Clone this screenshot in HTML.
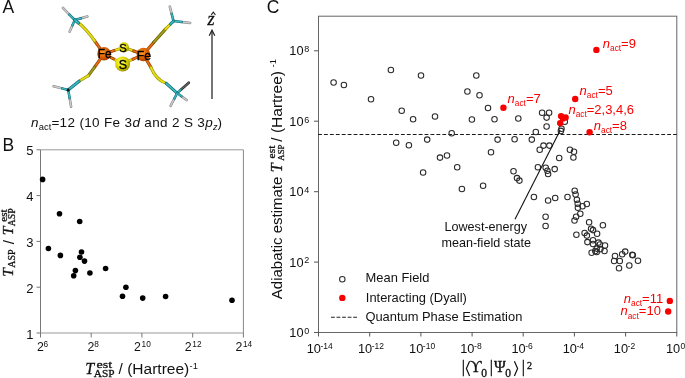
<!DOCTYPE html><html><head><meta charset="utf-8"><style>html,body{margin:0;padding:0;background:#fff;width:685px;height:378px;overflow:hidden}svg{display:block;will-change:transform}</style></head><body>
<svg width="685" height="378" viewBox="0 0 685 378">
<defs>
<radialGradient id="gFe" cx="0.4" cy="0.38" r="0.68"><stop offset="0" stop-color="#ff9a30"/><stop offset="0.5" stop-color="#e06400"/><stop offset="0.85" stop-color="#b04800"/><stop offset="1" stop-color="#7a3000"/></radialGradient>
<radialGradient id="gS" cx="0.4" cy="0.38" r="0.68"><stop offset="0" stop-color="#ffff80"/><stop offset="0.5" stop-color="#e4dc00"/><stop offset="0.85" stop-color="#b0a800"/><stop offset="1" stop-color="#7a7400"/></radialGradient>
</defs>
<text id="m_A" x="2.50" y="12.70" font-size="17.5" font-family='"Liberation Sans", sans-serif' fill="#111">A</text>
<text id="m_B" x="2.50" y="150.80" font-size="17.5" font-family='"Liberation Sans", sans-serif' fill="#111">B</text>
<text id="m_C" x="266.80" y="13.20" font-size="17.5" font-family='"Liberation Sans", sans-serif' fill="#111">C</text>
<g fill="none" stroke-width="1">
<line x1="40.5" y1="149.8" x2="243.4" y2="149.8" stroke="#999"/>
<line x1="243.4" y1="149.8" x2="243.4" y2="333.0" stroke="#888"/>
<line x1="40.5" y1="333.0" x2="243.4" y2="333.0" stroke="#999"/>
<line x1="40.5" y1="149.8" x2="40.5" y2="333.0" stroke="#777"/>
<line x1="36.5" y1="333.0" x2="40.5" y2="333.0" stroke="#777"/>
<line x1="36.5" y1="287.2" x2="40.5" y2="287.2" stroke="#777"/>
<line x1="36.5" y1="241.4" x2="40.5" y2="241.4" stroke="#777"/>
<line x1="36.5" y1="195.6" x2="40.5" y2="195.6" stroke="#777"/>
<line x1="36.5" y1="149.8" x2="40.5" y2="149.8" stroke="#777"/>
<line x1="40.5" y1="333.0" x2="40.5" y2="337.5" stroke="#777"/>
<line x1="91.2" y1="333.0" x2="91.2" y2="337.5" stroke="#777"/>
<line x1="141.9" y1="333.0" x2="141.9" y2="337.5" stroke="#777"/>
<line x1="192.7" y1="333.0" x2="192.7" y2="337.5" stroke="#777"/>
<line x1="243.4" y1="333.0" x2="243.4" y2="337.5" stroke="#777"/>
</g>
<text id="m_by1" x="33.40" y="338.50" font-size="13" font-family='"Liberation Sans", sans-serif' fill="#111" text-anchor="end">1</text>
<text id="m_by2" x="33.40" y="292.70" font-size="13" font-family='"Liberation Sans", sans-serif' fill="#111" text-anchor="end">2</text>
<text id="m_by3" x="33.40" y="246.90" font-size="13" font-family='"Liberation Sans", sans-serif' fill="#111" text-anchor="end">3</text>
<text id="m_by4" x="33.40" y="201.10" font-size="13" font-family='"Liberation Sans", sans-serif' fill="#111" text-anchor="end">4</text>
<text id="m_by5" x="33.40" y="155.30" font-size="13" font-family='"Liberation Sans", sans-serif' fill="#111" text-anchor="end">5</text>
<text id="m_bx6" x="36.90" y="351.20" font-size="12.3" font-family='"Liberation Sans", sans-serif' fill="#111">2</text>
<text id="m_bxs6" x="43.60" y="347.00" font-size="8.3" font-family='"Liberation Sans", sans-serif' fill="#111">6</text>
<text id="m_bx8" x="87.62" y="351.20" font-size="12.3" font-family='"Liberation Sans", sans-serif' fill="#111">2</text>
<text id="m_bxs8" x="94.32" y="347.00" font-size="8.3" font-family='"Liberation Sans", sans-serif' fill="#111">8</text>
<text id="m_bx10" x="133.95" y="351.20" font-size="12.3" font-family='"Liberation Sans", sans-serif' fill="#111">2</text>
<text id="m_bxs10" x="141.55" y="347.00" font-size="8.3" font-family='"Liberation Sans", sans-serif' fill="#111">10</text>
<text id="m_bx12" x="184.68" y="351.20" font-size="12.3" font-family='"Liberation Sans", sans-serif' fill="#111">2</text>
<text id="m_bxs12" x="192.28" y="347.00" font-size="8.3" font-family='"Liberation Sans", sans-serif' fill="#111">12</text>
<text id="m_bx14" x="235.40" y="351.20" font-size="12.3" font-family='"Liberation Sans", sans-serif' fill="#111">2</text>
<text id="m_bxs14" x="243.00" y="347.00" font-size="8.3" font-family='"Liberation Sans", sans-serif' fill="#111">14</text>
<circle cx="42.6" cy="179.4" r="2.8" fill="#000"/>
<circle cx="59.5" cy="213.7" r="2.8" fill="#000"/>
<circle cx="79.7" cy="221.5" r="2.8" fill="#000"/>
<circle cx="48.4" cy="248.5" r="2.8" fill="#000"/>
<circle cx="60.4" cy="255.4" r="2.8" fill="#000"/>
<circle cx="81.5" cy="252.0" r="2.8" fill="#000"/>
<circle cx="79.9" cy="257.2" r="2.8" fill="#000"/>
<circle cx="84.5" cy="261.1" r="2.8" fill="#000"/>
<circle cx="75.4" cy="270.6" r="2.8" fill="#000"/>
<circle cx="73.7" cy="275.7" r="2.8" fill="#000"/>
<circle cx="89.9" cy="273.0" r="2.8" fill="#000"/>
<circle cx="105.6" cy="268.5" r="2.8" fill="#000"/>
<circle cx="125.9" cy="287.3" r="2.8" fill="#000"/>
<circle cx="122.5" cy="296.3" r="2.8" fill="#000"/>
<circle cx="142.7" cy="298.1" r="2.8" fill="#000"/>
<circle cx="165.6" cy="296.5" r="2.8" fill="#000"/>
<circle cx="232.0" cy="300.2" r="2.8" fill="#000"/>
<text id="m_bT" x="85.20" y="373.70" font-size="16" font-family='"Liberation Serif", serif' fill="#111" font-style="italic" stroke="#111" stroke-width="0.3">T</text>
<text id="m_best" transform="translate(96.60,367.70) scale(1.28,1)" font-size="11" font-family='"Liberation Serif", serif' fill="#111" stroke="#111" stroke-width="0.3">est</text>
<text id="m_bASP" x="93.80" y="377.40" font-size="11.3" font-family='"Liberation Serif", serif' fill="#111" stroke="#111" stroke-width="0.3">ASP</text>
<text id="m_bH" x="118.60" y="373.70" font-size="15.5" font-family='"Liberation Sans", sans-serif' fill="#111">/ (Hartree)</text>
<text id="m_bm1" x="189.60" y="369.20" font-size="9.4" font-family='"Liberation Sans", sans-serif' fill="#111">-1</text>
<g transform="translate(12.5,276.7) rotate(-90)">
<text id="m_byT1" x="0.00" y="0.00" font-size="15.5" font-family='"Liberation Serif", serif' fill="#111" font-style="italic" stroke="#111" stroke-width="0.3">T</text>
<text id="m_byA1" x="8.90" y="2.40" font-size="10" font-family='"Liberation Serif", serif' fill="#111" stroke="#111" stroke-width="0.3">ASP</text>
<text id="m_bys" x="32.50" y="1.80" font-size="15" font-family='"Liberation Sans", sans-serif' fill="#111">/</text>
<text id="m_byT2" x="41.50" y="0.00" font-size="15.5" font-family='"Liberation Serif", serif' fill="#111" font-style="italic" stroke="#111" stroke-width="0.3">T</text>
<text id="m_bye2" transform="translate(55.00,-6.00) scale(1.12,1)" font-size="10" font-family='"Liberation Serif", serif' fill="#111" stroke="#111" stroke-width="0.3">est</text>
<text id="m_byA2" x="50.50" y="2.40" font-size="9.7" font-family='"Liberation Serif", serif' fill="#111" stroke="#111" stroke-width="0.3">ASP</text>
</g>
<g fill="none" stroke-width="1">
<rect x="318.5" y="16.2" width="358.3" height="316.3" stroke="#666"/>
<line x1="314.0" y1="332.5" x2="318.5" y2="332.5" stroke="#555"/>
<line x1="314.0" y1="262.1" x2="318.5" y2="262.1" stroke="#555"/>
<line x1="314.0" y1="191.7" x2="318.5" y2="191.7" stroke="#555"/>
<line x1="314.0" y1="121.2" x2="318.5" y2="121.2" stroke="#555"/>
<line x1="314.0" y1="50.8" x2="318.5" y2="50.8" stroke="#555"/>
<line x1="318.5" y1="332.5" x2="318.5" y2="336.5" stroke="#555"/>
<line x1="369.7" y1="332.5" x2="369.7" y2="336.5" stroke="#555"/>
<line x1="420.9" y1="332.5" x2="420.9" y2="336.5" stroke="#555"/>
<line x1="472.1" y1="332.5" x2="472.1" y2="336.5" stroke="#555"/>
<line x1="523.2" y1="332.5" x2="523.2" y2="336.5" stroke="#555"/>
<line x1="574.4" y1="332.5" x2="574.4" y2="336.5" stroke="#555"/>
<line x1="625.6" y1="332.5" x2="625.6" y2="336.5" stroke="#555"/>
<line x1="676.8" y1="332.5" x2="676.8" y2="336.5" stroke="#555"/>
</g>
<text id="m_cy0" x="303.50" y="337.00" font-size="12.8" font-family='"Liberation Sans", sans-serif' fill="#111" text-anchor="end">10</text>
<text id="m_cys0" x="304.30" y="333.80" font-size="9" font-family='"Liberation Sans", sans-serif' fill="#111">0</text>
<text id="m_cy2" x="303.50" y="266.58" font-size="12.8" font-family='"Liberation Sans", sans-serif' fill="#111" text-anchor="end">10</text>
<text id="m_cys2" x="304.30" y="263.38" font-size="9" font-family='"Liberation Sans", sans-serif' fill="#111">2</text>
<text id="m_cy4" x="303.50" y="196.16" font-size="12.8" font-family='"Liberation Sans", sans-serif' fill="#111" text-anchor="end">10</text>
<text id="m_cys4" x="304.30" y="192.96" font-size="9" font-family='"Liberation Sans", sans-serif' fill="#111">4</text>
<text id="m_cy6" x="303.50" y="125.74" font-size="12.8" font-family='"Liberation Sans", sans-serif' fill="#111" text-anchor="end">10</text>
<text id="m_cys6" x="304.30" y="122.54" font-size="9" font-family='"Liberation Sans", sans-serif' fill="#111">6</text>
<text id="m_cy8" x="303.50" y="55.32" font-size="12.8" font-family='"Liberation Sans", sans-serif' fill="#111" text-anchor="end">10</text>
<text id="m_cys8" x="304.30" y="52.12" font-size="9" font-family='"Liberation Sans", sans-serif' fill="#111">8</text>
<text id="m_cx-14" x="306.70" y="352.80" font-size="12.8" font-family='"Liberation Sans", sans-serif' fill="#111">10</text>
<text id="m_cxs-14" x="320.50" y="348.70" font-size="8.5" font-family='"Liberation Sans", sans-serif' fill="#111">-14</text>
<text id="m_cx-12" x="357.89" y="352.80" font-size="12.8" font-family='"Liberation Sans", sans-serif' fill="#111">10</text>
<text id="m_cxs-12" x="371.69" y="348.70" font-size="8.5" font-family='"Liberation Sans", sans-serif' fill="#111">-12</text>
<text id="m_cx-10" x="409.07" y="352.80" font-size="12.8" font-family='"Liberation Sans", sans-serif' fill="#111">10</text>
<text id="m_cxs-10" x="422.87" y="348.70" font-size="8.5" font-family='"Liberation Sans", sans-serif' fill="#111">-10</text>
<text id="m_cx-8" x="460.26" y="352.80" font-size="12.8" font-family='"Liberation Sans", sans-serif' fill="#111">10</text>
<text id="m_cxs-8" x="474.06" y="348.70" font-size="8.5" font-family='"Liberation Sans", sans-serif' fill="#111">-8</text>
<text id="m_cx-6" x="511.44" y="352.80" font-size="12.8" font-family='"Liberation Sans", sans-serif' fill="#111">10</text>
<text id="m_cxs-6" x="525.24" y="348.70" font-size="8.5" font-family='"Liberation Sans", sans-serif' fill="#111">-6</text>
<text id="m_cx-4" x="562.63" y="352.80" font-size="12.8" font-family='"Liberation Sans", sans-serif' fill="#111">10</text>
<text id="m_cxs-4" x="576.43" y="348.70" font-size="8.5" font-family='"Liberation Sans", sans-serif' fill="#111">-4</text>
<text id="m_cx-2" x="613.81" y="352.80" font-size="12.8" font-family='"Liberation Sans", sans-serif' fill="#111">10</text>
<text id="m_cxs-2" x="627.61" y="348.70" font-size="8.5" font-family='"Liberation Sans", sans-serif' fill="#111">-2</text>
<text id="m_cx0" x="665.90" y="352.80" font-size="12.8" font-family='"Liberation Sans", sans-serif' fill="#111">10</text>
<text id="m_cxs0" x="680.40" y="348.70" font-size="8.5" font-family='"Liberation Sans", sans-serif' fill="#111">0</text>
<line x1="318.1" y1="134.5" x2="676.8" y2="134.5" stroke="#1a1a1a" stroke-width="1.2" stroke-dasharray="3.8 2.117"/>
<g fill="none" stroke="#2a2a2a" stroke-width="1.05">
<circle cx="333.6" cy="82.4" r="2.75"/>
<circle cx="343.9" cy="85.0" r="2.75"/>
<circle cx="390.9" cy="70.0" r="2.75"/>
<circle cx="371.0" cy="99.2" r="2.75"/>
<circle cx="401.7" cy="110.8" r="2.75"/>
<circle cx="413.1" cy="119.2" r="2.75"/>
<circle cx="421.0" cy="75.4" r="2.75"/>
<circle cx="476.3" cy="75.4" r="2.75"/>
<circle cx="467.4" cy="91.5" r="2.75"/>
<circle cx="479.5" cy="95.3" r="2.75"/>
<circle cx="488.0" cy="108.0" r="2.75"/>
<circle cx="435.0" cy="116.5" r="2.75"/>
<circle cx="471.9" cy="119.5" r="2.75"/>
<circle cx="494.5" cy="119.3" r="2.75"/>
<circle cx="518.3" cy="118.5" r="2.75"/>
<circle cx="542.1" cy="112.8" r="2.75"/>
<circle cx="549.1" cy="112.8" r="2.75"/>
<circle cx="546.6" cy="117.6" r="2.75"/>
<circle cx="546.6" cy="126.4" r="2.75"/>
<circle cx="535.8" cy="132.0" r="2.75"/>
<circle cx="514.6" cy="139.2" r="2.75"/>
<circle cx="531.8" cy="139.6" r="2.75"/>
<circle cx="543.5" cy="145.6" r="2.75"/>
<circle cx="549.4" cy="145.6" r="2.75"/>
<circle cx="539.7" cy="149.8" r="2.75"/>
<circle cx="564.8" cy="121.8" r="2.75"/>
<circle cx="561.5" cy="128.8" r="2.75"/>
<circle cx="560.9" cy="130.9" r="2.75"/>
<circle cx="396.2" cy="142.8" r="2.75"/>
<circle cx="408.9" cy="145.2" r="2.75"/>
<circle cx="451.7" cy="133.3" r="2.75"/>
<circle cx="427.2" cy="139.6" r="2.75"/>
<circle cx="440.0" cy="157.6" r="2.75"/>
<circle cx="447.0" cy="155.4" r="2.75"/>
<circle cx="457.2" cy="167.2" r="2.75"/>
<circle cx="423.1" cy="172.4" r="2.75"/>
<circle cx="461.9" cy="188.9" r="2.75"/>
<circle cx="483.1" cy="185.7" r="2.75"/>
<circle cx="491.0" cy="152.2" r="2.75"/>
<circle cx="497.6" cy="139.6" r="2.75"/>
<circle cx="559.2" cy="157.9" r="2.75"/>
<circle cx="537.9" cy="167.3" r="2.75"/>
<circle cx="545.7" cy="167.8" r="2.75"/>
<circle cx="547.4" cy="170.8" r="2.75"/>
<circle cx="548.1" cy="174.0" r="2.75"/>
<circle cx="554.7" cy="169.1" r="2.75"/>
<circle cx="513.5" cy="171.3" r="2.75"/>
<circle cx="517.0" cy="178.1" r="2.75"/>
<circle cx="519.4" cy="180.6" r="2.75"/>
<circle cx="569.9" cy="149.8" r="2.75"/>
<circle cx="574.0" cy="151.8" r="2.75"/>
<circle cx="573.4" cy="157.4" r="2.75"/>
<circle cx="574.7" cy="190.8" r="2.75"/>
<circle cx="575.6" cy="194.5" r="2.75"/>
<circle cx="576.9" cy="199.8" r="2.75"/>
<circle cx="577.7" cy="203.8" r="2.75"/>
<circle cx="577.9" cy="207.8" r="2.75"/>
<circle cx="567.5" cy="196.9" r="2.75"/>
<circle cx="582.5" cy="206.2" r="2.75"/>
<circle cx="586.8" cy="204.0" r="2.75"/>
<circle cx="580.3" cy="213.8" r="2.75"/>
<circle cx="576.1" cy="216.7" r="2.75"/>
<circle cx="574.5" cy="220.4" r="2.75"/>
<circle cx="589.1" cy="222.2" r="2.75"/>
<circle cx="602.9" cy="225.3" r="2.75"/>
<circle cx="591.1" cy="228.7" r="2.75"/>
<circle cx="593.0" cy="230.1" r="2.75"/>
<circle cx="597.1" cy="233.8" r="2.75"/>
<circle cx="584.6" cy="232.9" r="2.75"/>
<circle cx="586.9" cy="235.6" r="2.75"/>
<circle cx="587.4" cy="242.1" r="2.75"/>
<circle cx="593.0" cy="240.3" r="2.75"/>
<circle cx="593.0" cy="244.0" r="2.75"/>
<circle cx="598.5" cy="242.6" r="2.75"/>
<circle cx="599.9" cy="244.4" r="2.75"/>
<circle cx="605.0" cy="245.4" r="2.75"/>
<circle cx="604.5" cy="250.9" r="2.75"/>
<circle cx="596.7" cy="248.6" r="2.75"/>
<circle cx="600.4" cy="249.1" r="2.75"/>
<circle cx="596.7" cy="251.9" r="2.75"/>
<circle cx="591.6" cy="252.8" r="2.75"/>
<circle cx="595.3" cy="250.9" r="2.75"/>
<circle cx="615.0" cy="255.9" r="2.75"/>
<circle cx="614.1" cy="261.0" r="2.75"/>
<circle cx="619.8" cy="261.0" r="2.75"/>
<circle cx="622.2" cy="254.3" r="2.75"/>
<circle cx="625.2" cy="251.6" r="2.75"/>
<circle cx="632.3" cy="254.8" r="2.75"/>
<circle cx="632.8" cy="255.3" r="2.75"/>
<circle cx="619.0" cy="268.3" r="2.75"/>
<circle cx="629.3" cy="265.4" r="2.75"/>
<circle cx="638.0" cy="260.7" r="2.75"/>
<circle cx="533.9" cy="197.0" r="2.75"/>
<circle cx="548.1" cy="200.4" r="2.75"/>
<circle cx="555.2" cy="198.0" r="2.75"/>
<circle cx="545.6" cy="216.7" r="2.75"/>
<circle cx="545.6" cy="225.9" r="2.75"/>
<circle cx="576.4" cy="234.8" r="2.75"/>
</g>
<line x1="560.2" y1="130.2" x2="515.0" y2="219.2" stroke="#111" stroke-width="1.1"/>
<text id="m_low1" x="485.80" y="231.40" font-size="12.6" font-family='"Liberation Sans", sans-serif' fill="#111" text-anchor="middle">Lowest-energy</text>
<text id="m_low2" x="486.20" y="246.90" font-size="12.6" font-family='"Liberation Sans", sans-serif' fill="#111" text-anchor="middle">mean-field state</text>
<g fill="#f80000">
<circle cx="596.4" cy="49.9" r="3.2"/>
<circle cx="575.2" cy="99.0" r="3.2"/>
<circle cx="503.4" cy="107.7" r="3.2"/>
<circle cx="561.1" cy="116.1" r="3.2"/>
<circle cx="565.6" cy="117.4" r="3.2"/>
<circle cx="563.0" cy="118.4" r="3.2"/>
<circle cx="560.2" cy="123.1" r="3.2"/>
<circle cx="589.6" cy="132.2" r="3.2"/>
<circle cx="669.8" cy="300.9" r="3.2"/>
<circle cx="668.2" cy="311.5" r="3.2"/>
</g>
<text id="m_n9" x="602.8" y="47.9" font-family='"Liberation Sans", sans-serif' fill="#f80000" font-size="13"><tspan font-style="italic">n</tspan><tspan font-size="8.3" dy="3.2">act</tspan><tspan dy="-3.2">=9</tspan></text>
<text id="m_n5" x="579.6" y="94.9" font-family='"Liberation Sans", sans-serif' fill="#f80000" font-size="13"><tspan font-style="italic">n</tspan><tspan font-size="8.3" dy="3.2">act</tspan><tspan dy="-3.2">=5</tspan></text>
<text id="m_n7" x="507.6" y="103.1" font-family='"Liberation Sans", sans-serif' fill="#f80000" font-size="13"><tspan font-style="italic">n</tspan><tspan font-size="8.3" dy="3.2">act</tspan><tspan dy="-3.2">=7</tspan></text>
<text id="m_n2" x="568.4" y="114.0" font-family='"Liberation Sans", sans-serif' fill="#f80000" font-size="13"><tspan font-style="italic">n</tspan><tspan font-size="8.3" dy="3.2">act</tspan><tspan dy="-3.2">=2,3,4,6</tspan></text>
<text id="m_n8" x="593.8" y="129.7" font-family='"Liberation Sans", sans-serif' fill="#f80000" font-size="13"><tspan font-style="italic">n</tspan><tspan font-size="8.3" dy="3.2">act</tspan><tspan dy="-3.2">=8</tspan></text>
<text id="m_n11" x="623.8" y="303.0" font-family='"Liberation Sans", sans-serif' fill="#f80000" font-size="13"><tspan font-style="italic">n</tspan><tspan font-size="8.3" dy="3.2">act</tspan><tspan dy="-3.2">=11</tspan></text>
<text id="m_n10" x="620.5" y="315.3" font-family='"Liberation Sans", sans-serif' fill="#f80000" font-size="13"><tspan font-style="italic">n</tspan><tspan font-size="8.3" dy="3.2">act</tspan><tspan dy="-3.2">=10</tspan></text>
<circle cx="342.3" cy="279.3" r="2.75" fill="none" stroke="#2a2a2a" stroke-width="1.05"/>
<circle cx="342.3" cy="297.9" r="3.2" fill="#f80000"/>
<line x1="331" y1="317.3" x2="357" y2="317.3" stroke="#222" stroke-width="1.1" stroke-dasharray="3.8 1.75"/>
<text id="m_lg1" x="365.60" y="281.80" font-size="12.9" font-family='"Liberation Sans", sans-serif' fill="#111">Mean Field</text>
<text id="m_lg2" x="365.80" y="301.50" font-size="12.9" font-family='"Liberation Sans", sans-serif' fill="#111">Interacting (Dyall)</text>
<text id="m_lg3" x="365.40" y="321.40" font-size="12.9" font-family='"Liberation Sans", sans-serif' fill="#111">Quantum Phase Estimation</text>
<g id="m_cxl" font-family='"Liberation Serif", serif' fill="#111" stroke="#111" stroke-width="0.35"><text x="463.3" y="372.3" font-size="16" text-anchor="middle">|</text><text x="475.8" y="372.3" font-size="16" text-anchor="middle">ϒ</text><text x="484.2" y="377.0" font-size="11.5" text-anchor="middle">0</text><text x="491.3" y="372.3" font-size="16" text-anchor="middle">|</text><text x="499.8" y="372.3" font-size="16" text-anchor="middle">Ψ</text><text x="508.2" y="377.0" font-size="11.5" text-anchor="middle">0</text><text x="523.4" y="372.3" font-size="16" text-anchor="middle">|</text><text x="529.5" y="369.0" font-size="10" text-anchor="middle">2</text></g>
<path d="M469.6 361.2 L466.4 368.6 L469.6 376" fill="none" stroke="#111" stroke-width="1.2"/>
<path d="M514.4 361.2 L517.6 368.6 L514.4 376" fill="none" stroke="#111" stroke-width="1.2"/>
<g transform="translate(281.8,299.2) rotate(-90)">
<text id="m_cyl1" x="0.00" y="0.00" font-size="15" font-family='"Liberation Sans", sans-serif' fill="#111">Adiabatic estimate</text>
<text id="m_cyT" x="127.00" y="0.00" font-size="16" font-family='"Liberation Serif", serif' fill="#111" font-style="italic" stroke="#111" stroke-width="0.3">T</text>
<text id="m_cye" transform="translate(140.80,-6.50) scale(1.15,1)" font-size="10" font-family='"Liberation Serif", serif' fill="#111" stroke="#111" stroke-width="0.3">est</text>
<text id="m_cyA" x="138.50" y="2.60" font-size="8.8" font-family='"Liberation Serif", serif' fill="#111" stroke="#111" stroke-width="0.3">ASP</text>
<text id="m_cyH" x="157.50" y="0.00" font-size="15.5" font-family='"Liberation Sans", sans-serif' fill="#111">/ (Hartree)</text>
<text id="m_cym1" x="231.80" y="-5.60" font-size="9.4" font-family='"Liberation Sans", sans-serif' fill="#111">-1</text>
</g>
<line x1="212" y1="99" x2="212" y2="31.5" stroke="#666" stroke-width="1.8"/>
<path d="M209.2 35.8 L212 30.2 L214.8 35.8" fill="none" stroke="#222" stroke-width="1.2"/>
<text id="m_z" x="207.60" y="24.90" font-size="18.3" font-family='"Liberation Serif", serif' fill="#111" font-style="italic" stroke="#111" stroke-width="0.3">z</text>
<path d="M211.2 14.9 L213.3 12.1 L215.4 14.9" fill="none" stroke="#222" stroke-width="1.05"/>
<text id="m_cap" x="31" y="126.8" font-family='"Liberation Sans", sans-serif' font-size="13.5" letter-spacing="0.34" fill="#111"><tspan font-style="italic">n</tspan><tspan font-size="9.4" dy="3" letter-spacing="0">act</tspan><tspan dy="-3">=12 (10 Fe 3</tspan><tspan font-style="italic">d</tspan> and 2 S 3<tspan font-style="italic">p</tspan><tspan font-size="9" dy="3" font-style="italic" letter-spacing="0">z</tspan><tspan dy="-3">)</tspan></text>
<g><path d="M69.4 14.6 L62.9 7.9" fill="none" stroke="#7e7e7e" stroke-width="2.5" stroke-linecap="round" stroke-linejoin="round"/><path d="M69.4 14.6 L62.9 7.9" fill="none" stroke="#bcbcbc" stroke-width="1.55" stroke-linecap="round" stroke-linejoin="round"/><path d="M69.4 14.6 L62.9 7.9" fill="none" stroke="#ececec" stroke-width="0.55" stroke-linecap="round" stroke-linejoin="round" opacity="0.7"/><path d="M74.8 20.0 L69.4 14.6" fill="none" stroke="#0e6e76" stroke-width="2.5" stroke-linecap="round" stroke-linejoin="round"/><path d="M74.8 20.0 L69.4 14.6" fill="none" stroke="#2aa8b2" stroke-width="1.55" stroke-linecap="round" stroke-linejoin="round"/><path d="M74.8 20.0 L69.4 14.6" fill="none" stroke="#70d8de" stroke-width="0.55" stroke-linecap="round" stroke-linejoin="round" opacity="0.7"/><path d="M81.1 18.2 L87.4 16.5" fill="none" stroke="#7e7e7e" stroke-width="2.5" stroke-linecap="round" stroke-linejoin="round"/><path d="M81.1 18.2 L87.4 16.5" fill="none" stroke="#bcbcbc" stroke-width="1.55" stroke-linecap="round" stroke-linejoin="round"/><path d="M81.1 18.2 L87.4 16.5" fill="none" stroke="#ececec" stroke-width="0.55" stroke-linecap="round" stroke-linejoin="round" opacity="0.7"/><path d="M74.8 20.0 L81.1 18.2" fill="none" stroke="#0e6e76" stroke-width="2.5" stroke-linecap="round" stroke-linejoin="round"/><path d="M74.8 20.0 L81.1 18.2" fill="none" stroke="#2aa8b2" stroke-width="1.55" stroke-linecap="round" stroke-linejoin="round"/><path d="M74.8 20.0 L81.1 18.2" fill="none" stroke="#70d8de" stroke-width="0.55" stroke-linecap="round" stroke-linejoin="round" opacity="0.7"/><path d="M72.5 25.3 L69.6 31.7" fill="none" stroke="#7e7e7e" stroke-width="2.5" stroke-linecap="round" stroke-linejoin="round"/><path d="M72.5 25.3 L69.6 31.7" fill="none" stroke="#bcbcbc" stroke-width="1.55" stroke-linecap="round" stroke-linejoin="round"/><path d="M72.5 25.3 L69.6 31.7" fill="none" stroke="#ececec" stroke-width="0.55" stroke-linecap="round" stroke-linejoin="round" opacity="0.7"/><path d="M74.8 20.0 L72.5 25.3" fill="none" stroke="#0e6e76" stroke-width="2.5" stroke-linecap="round" stroke-linejoin="round"/><path d="M74.8 20.0 L72.5 25.3" fill="none" stroke="#2aa8b2" stroke-width="1.55" stroke-linecap="round" stroke-linejoin="round"/><path d="M74.8 20.0 L72.5 25.3" fill="none" stroke="#70d8de" stroke-width="0.55" stroke-linecap="round" stroke-linejoin="round" opacity="0.7"/><path d="M104.0 53.8 L94.7 41.0" fill="none" stroke="#9a3c00" stroke-width="3.1" stroke-linecap="round" stroke-linejoin="round"/><path d="M104.0 53.8 L94.7 41.0" fill="none" stroke="#d8640a" stroke-width="1.92" stroke-linecap="round" stroke-linejoin="round"/><path d="M104.0 53.8 L94.7 41.0" fill="none" stroke="#f08a30" stroke-width="0.68" stroke-linecap="round" stroke-linejoin="round" opacity="0.7"/><path d="M94.7 41.0 Q86.0 28.6 78.0 22.6" fill="none" stroke="#9a9400" stroke-width="3.1" stroke-linecap="round" stroke-linejoin="round"/><path d="M94.7 41.0 Q86.0 28.6 78.0 22.6" fill="none" stroke="#dcd400" stroke-width="1.92" stroke-linecap="round" stroke-linejoin="round"/><path d="M94.7 41.0 Q86.0 28.6 78.0 22.6" fill="none" stroke="#f4f060" stroke-width="0.68" stroke-linecap="round" stroke-linejoin="round" opacity="0.7"/><path d="M78.5 23.0 L74.8 20.0" fill="none" stroke="#0e6e76" stroke-width="3.1" stroke-linecap="round" stroke-linejoin="round"/><path d="M78.5 23.0 L74.8 20.0" fill="none" stroke="#2aa8b2" stroke-width="1.92" stroke-linecap="round" stroke-linejoin="round"/><path d="M78.5 23.0 L74.8 20.0" fill="none" stroke="#70d8de" stroke-width="0.68" stroke-linecap="round" stroke-linejoin="round" opacity="0.7"/><path d="M62.1 88.4 L53.6 86.3" fill="none" stroke="#7e7e7e" stroke-width="2.5" stroke-linecap="round" stroke-linejoin="round"/><path d="M62.1 88.4 L53.6 86.3" fill="none" stroke="#bcbcbc" stroke-width="1.55" stroke-linecap="round" stroke-linejoin="round"/><path d="M62.1 88.4 L53.6 86.3" fill="none" stroke="#ececec" stroke-width="0.55" stroke-linecap="round" stroke-linejoin="round" opacity="0.7"/><path d="M68.2 90.0 L62.1 88.4" fill="none" stroke="#0e6e76" stroke-width="2.5" stroke-linecap="round" stroke-linejoin="round"/><path d="M68.2 90.0 L62.1 88.4" fill="none" stroke="#2aa8b2" stroke-width="1.55" stroke-linecap="round" stroke-linejoin="round"/><path d="M68.2 90.0 L62.1 88.4" fill="none" stroke="#70d8de" stroke-width="0.55" stroke-linecap="round" stroke-linejoin="round" opacity="0.7"/><path d="M69.7 98.3 L71.1 106.7" fill="none" stroke="#7e7e7e" stroke-width="2.5" stroke-linecap="round" stroke-linejoin="round"/><path d="M69.7 98.3 L71.1 106.7" fill="none" stroke="#bcbcbc" stroke-width="1.55" stroke-linecap="round" stroke-linejoin="round"/><path d="M69.7 98.3 L71.1 106.7" fill="none" stroke="#ececec" stroke-width="0.55" stroke-linecap="round" stroke-linejoin="round" opacity="0.7"/><path d="M68.2 90.0 L69.7 98.3" fill="none" stroke="#0e6e76" stroke-width="2.5" stroke-linecap="round" stroke-linejoin="round"/><path d="M68.2 90.0 L69.7 98.3" fill="none" stroke="#2aa8b2" stroke-width="1.55" stroke-linecap="round" stroke-linejoin="round"/><path d="M68.2 90.0 L69.7 98.3" fill="none" stroke="#70d8de" stroke-width="0.55" stroke-linecap="round" stroke-linejoin="round" opacity="0.7"/><path d="M104.0 53.8 L94.6 67.2" fill="none" stroke="#9a3c00" stroke-width="3.1" stroke-linecap="round" stroke-linejoin="round"/><path d="M104.0 53.8 L94.6 67.2" fill="none" stroke="#d8640a" stroke-width="1.92" stroke-linecap="round" stroke-linejoin="round"/><path d="M104.0 53.8 L94.6 67.2" fill="none" stroke="#f08a30" stroke-width="0.68" stroke-linecap="round" stroke-linejoin="round" opacity="0.7"/><path d="M94.6 67.2 L88.4 75.6" fill="none" stroke="#5e5a00" stroke-width="3.1" stroke-linecap="round" stroke-linejoin="round"/><path d="M94.6 67.2 L88.4 75.6" fill="none" stroke="#9a9410" stroke-width="1.92" stroke-linecap="round" stroke-linejoin="round"/><path d="M94.6 67.2 L88.4 75.6" fill="none" stroke="#b8b040" stroke-width="0.68" stroke-linecap="round" stroke-linejoin="round" opacity="0.7"/><path d="M88.4 75.6 L86.8 76.5 L79.1 81.2" fill="none" stroke="#9a9400" stroke-width="3.1" stroke-linecap="round" stroke-linejoin="round"/><path d="M88.4 75.6 L86.8 76.5 L79.1 81.2" fill="none" stroke="#dcd400" stroke-width="1.92" stroke-linecap="round" stroke-linejoin="round"/><path d="M88.4 75.6 L86.8 76.5 L79.1 81.2" fill="none" stroke="#f4f060" stroke-width="0.68" stroke-linecap="round" stroke-linejoin="round" opacity="0.7"/><path d="M79.1 81.2 L68.2 90.0" fill="none" stroke="#0e6e76" stroke-width="3.1" stroke-linecap="round" stroke-linejoin="round"/><path d="M79.1 81.2 L68.2 90.0" fill="none" stroke="#2aa8b2" stroke-width="1.92" stroke-linecap="round" stroke-linejoin="round"/><path d="M79.1 81.2 L68.2 90.0" fill="none" stroke="#70d8de" stroke-width="0.68" stroke-linecap="round" stroke-linejoin="round" opacity="0.7"/><circle cx="68.2" cy="90.0" r="1.4" fill="#111"/><path d="M171.7 13.9 L169.8 6.6" fill="none" stroke="#7e7e7e" stroke-width="2.5" stroke-linecap="round" stroke-linejoin="round"/><path d="M171.7 13.9 L169.8 6.6" fill="none" stroke="#bcbcbc" stroke-width="1.55" stroke-linecap="round" stroke-linejoin="round"/><path d="M171.7 13.9 L169.8 6.6" fill="none" stroke="#ececec" stroke-width="0.55" stroke-linecap="round" stroke-linejoin="round" opacity="0.7"/><path d="M173.5 21.1 L171.7 13.9" fill="none" stroke="#0e6e76" stroke-width="2.5" stroke-linecap="round" stroke-linejoin="round"/><path d="M173.5 21.1 L171.7 13.9" fill="none" stroke="#2aa8b2" stroke-width="1.55" stroke-linecap="round" stroke-linejoin="round"/><path d="M173.5 21.1 L171.7 13.9" fill="none" stroke="#70d8de" stroke-width="0.55" stroke-linecap="round" stroke-linejoin="round" opacity="0.7"/><path d="M181.8 22.0 L190.2 22.9" fill="none" stroke="#7e7e7e" stroke-width="2.5" stroke-linecap="round" stroke-linejoin="round"/><path d="M181.8 22.0 L190.2 22.9" fill="none" stroke="#bcbcbc" stroke-width="1.55" stroke-linecap="round" stroke-linejoin="round"/><path d="M181.8 22.0 L190.2 22.9" fill="none" stroke="#ececec" stroke-width="0.55" stroke-linecap="round" stroke-linejoin="round" opacity="0.7"/><path d="M173.5 21.1 L181.8 22.0" fill="none" stroke="#0e6e76" stroke-width="2.5" stroke-linecap="round" stroke-linejoin="round"/><path d="M173.5 21.1 L181.8 22.0" fill="none" stroke="#2aa8b2" stroke-width="1.55" stroke-linecap="round" stroke-linejoin="round"/><path d="M173.5 21.1 L181.8 22.0" fill="none" stroke="#70d8de" stroke-width="0.55" stroke-linecap="round" stroke-linejoin="round" opacity="0.7"/><path d="M143.4 54.5 L153.8 42.2" fill="none" stroke="#9a3c00" stroke-width="3.1" stroke-linecap="round" stroke-linejoin="round"/><path d="M143.4 54.5 L153.8 42.2" fill="none" stroke="#d8640a" stroke-width="1.92" stroke-linecap="round" stroke-linejoin="round"/><path d="M143.4 54.5 L153.8 42.2" fill="none" stroke="#f08a30" stroke-width="0.68" stroke-linecap="round" stroke-linejoin="round" opacity="0.7"/><path d="M153.8 42.2 L165.5 29.1" fill="none" stroke="#5e5a00" stroke-width="3.1" stroke-linecap="round" stroke-linejoin="round"/><path d="M153.8 42.2 L165.5 29.1" fill="none" stroke="#9a9410" stroke-width="1.92" stroke-linecap="round" stroke-linejoin="round"/><path d="M153.8 42.2 L165.5 29.1" fill="none" stroke="#b8b040" stroke-width="0.68" stroke-linecap="round" stroke-linejoin="round" opacity="0.7"/><path d="M165.5 29.1 L170.6 24.0" fill="none" stroke="#9a9400" stroke-width="3.1" stroke-linecap="round" stroke-linejoin="round"/><path d="M165.5 29.1 L170.6 24.0" fill="none" stroke="#dcd400" stroke-width="1.92" stroke-linecap="round" stroke-linejoin="round"/><path d="M165.5 29.1 L170.6 24.0" fill="none" stroke="#f4f060" stroke-width="0.68" stroke-linecap="round" stroke-linejoin="round" opacity="0.7"/><path d="M170.6 24.0 L173.5 21.1" fill="none" stroke="#0e6e76" stroke-width="3.1" stroke-linecap="round" stroke-linejoin="round"/><path d="M170.6 24.0 L173.5 21.1" fill="none" stroke="#2aa8b2" stroke-width="1.92" stroke-linecap="round" stroke-linejoin="round"/><path d="M170.6 24.0 L173.5 21.1" fill="none" stroke="#70d8de" stroke-width="0.68" stroke-linecap="round" stroke-linejoin="round" opacity="0.7"/><path d="M180.6 90.0 L188.8 82.7" fill="none" stroke="#202020" stroke-width="2.5" stroke-linecap="round" stroke-linejoin="round"/><path d="M180.6 90.0 L188.8 82.7" fill="none" stroke="#555555" stroke-width="1.55" stroke-linecap="round" stroke-linejoin="round"/><path d="M180.6 90.0 L188.8 82.7" fill="none" stroke="#888888" stroke-width="0.55" stroke-linecap="round" stroke-linejoin="round" opacity="0.7"/><path d="M177.1 93.1 L180.6 90.0" fill="none" stroke="#0e6e76" stroke-width="2.5" stroke-linecap="round" stroke-linejoin="round"/><path d="M177.1 93.1 L180.6 90.0" fill="none" stroke="#2aa8b2" stroke-width="1.55" stroke-linecap="round" stroke-linejoin="round"/><path d="M177.1 93.1 L180.6 90.0" fill="none" stroke="#70d8de" stroke-width="0.55" stroke-linecap="round" stroke-linejoin="round" opacity="0.7"/><path d="M143.4 54.5 L150.9 67.4" fill="none" stroke="#9a3c00" stroke-width="3.1" stroke-linecap="round" stroke-linejoin="round"/><path d="M143.4 54.5 L150.9 67.4" fill="none" stroke="#d8640a" stroke-width="1.92" stroke-linecap="round" stroke-linejoin="round"/><path d="M143.4 54.5 L150.9 67.4" fill="none" stroke="#f08a30" stroke-width="0.68" stroke-linecap="round" stroke-linejoin="round" opacity="0.7"/><path d="M150.9 67.4 Q156.0 80.0 166.2 83.4" fill="none" stroke="#9a9400" stroke-width="3.1" stroke-linecap="round" stroke-linejoin="round"/><path d="M150.9 67.4 Q156.0 80.0 166.2 83.4" fill="none" stroke="#dcd400" stroke-width="1.92" stroke-linecap="round" stroke-linejoin="round"/><path d="M150.9 67.4 Q156.0 80.0 166.2 83.4" fill="none" stroke="#f4f060" stroke-width="0.68" stroke-linecap="round" stroke-linejoin="round" opacity="0.7"/><path d="M166.2 83.4 L177.1 93.1" fill="none" stroke="#0e6e76" stroke-width="3.1" stroke-linecap="round" stroke-linejoin="round"/><path d="M166.2 83.4 L177.1 93.1" fill="none" stroke="#2aa8b2" stroke-width="1.92" stroke-linecap="round" stroke-linejoin="round"/><path d="M166.2 83.4 L177.1 93.1" fill="none" stroke="#70d8de" stroke-width="0.68" stroke-linecap="round" stroke-linejoin="round" opacity="0.7"/><path d="M181.4 96.2 L186.6 100.1" fill="none" stroke="#7e7e7e" stroke-width="2.5" stroke-linecap="round" stroke-linejoin="round"/><path d="M181.4 96.2 L186.6 100.1" fill="none" stroke="#bcbcbc" stroke-width="1.55" stroke-linecap="round" stroke-linejoin="round"/><path d="M181.4 96.2 L186.6 100.1" fill="none" stroke="#ececec" stroke-width="0.55" stroke-linecap="round" stroke-linejoin="round" opacity="0.7"/><path d="M177.1 93.1 L181.4 96.2" fill="none" stroke="#0e6e76" stroke-width="2.5" stroke-linecap="round" stroke-linejoin="round"/><path d="M177.1 93.1 L181.4 96.2" fill="none" stroke="#2aa8b2" stroke-width="1.55" stroke-linecap="round" stroke-linejoin="round"/><path d="M177.1 93.1 L181.4 96.2" fill="none" stroke="#70d8de" stroke-width="0.55" stroke-linecap="round" stroke-linejoin="round" opacity="0.7"/><path d="M174.4 98.5 L170.6 105.9" fill="none" stroke="#7e7e7e" stroke-width="2.5" stroke-linecap="round" stroke-linejoin="round"/><path d="M174.4 98.5 L170.6 105.9" fill="none" stroke="#bcbcbc" stroke-width="1.55" stroke-linecap="round" stroke-linejoin="round"/><path d="M174.4 98.5 L170.6 105.9" fill="none" stroke="#ececec" stroke-width="0.55" stroke-linecap="round" stroke-linejoin="round" opacity="0.7"/><path d="M177.1 93.1 L174.4 98.5" fill="none" stroke="#0e6e76" stroke-width="2.5" stroke-linecap="round" stroke-linejoin="round"/><path d="M177.1 93.1 L174.4 98.5" fill="none" stroke="#2aa8b2" stroke-width="1.55" stroke-linecap="round" stroke-linejoin="round"/><path d="M177.1 93.1 L174.4 98.5" fill="none" stroke="#70d8de" stroke-width="0.55" stroke-linecap="round" stroke-linejoin="round" opacity="0.7"/><path d="M114.0 50.6 L123.9 47.4" fill="none" stroke="#9a9400" stroke-width="3.0" stroke-linecap="round" stroke-linejoin="round"/><path d="M114.0 50.6 L123.9 47.4" fill="none" stroke="#dcd400" stroke-width="1.86" stroke-linecap="round" stroke-linejoin="round"/><path d="M114.0 50.6 L123.9 47.4" fill="none" stroke="#f4f060" stroke-width="0.66" stroke-linecap="round" stroke-linejoin="round" opacity="0.7"/><path d="M104.0 53.8 L114.0 50.6" fill="none" stroke="#9a3c00" stroke-width="3.0" stroke-linecap="round" stroke-linejoin="round"/><path d="M104.0 53.8 L114.0 50.6" fill="none" stroke="#d8640a" stroke-width="1.86" stroke-linecap="round" stroke-linejoin="round"/><path d="M104.0 53.8 L114.0 50.6" fill="none" stroke="#f08a30" stroke-width="0.66" stroke-linecap="round" stroke-linejoin="round" opacity="0.7"/><path d="M113.3 58.8 L122.6 63.9" fill="none" stroke="#9a9400" stroke-width="3.0" stroke-linecap="round" stroke-linejoin="round"/><path d="M113.3 58.8 L122.6 63.9" fill="none" stroke="#dcd400" stroke-width="1.86" stroke-linecap="round" stroke-linejoin="round"/><path d="M113.3 58.8 L122.6 63.9" fill="none" stroke="#f4f060" stroke-width="0.66" stroke-linecap="round" stroke-linejoin="round" opacity="0.7"/><path d="M104.0 53.8 L113.3 58.8" fill="none" stroke="#9a3c00" stroke-width="3.0" stroke-linecap="round" stroke-linejoin="round"/><path d="M104.0 53.8 L113.3 58.8" fill="none" stroke="#d8640a" stroke-width="1.86" stroke-linecap="round" stroke-linejoin="round"/><path d="M104.0 53.8 L113.3 58.8" fill="none" stroke="#f08a30" stroke-width="0.66" stroke-linecap="round" stroke-linejoin="round" opacity="0.7"/><path d="M133.7 51.0 L123.9 47.4" fill="none" stroke="#9a9400" stroke-width="3.0" stroke-linecap="round" stroke-linejoin="round"/><path d="M133.7 51.0 L123.9 47.4" fill="none" stroke="#dcd400" stroke-width="1.86" stroke-linecap="round" stroke-linejoin="round"/><path d="M133.7 51.0 L123.9 47.4" fill="none" stroke="#f4f060" stroke-width="0.66" stroke-linecap="round" stroke-linejoin="round" opacity="0.7"/><path d="M143.4 54.5 L133.7 51.0" fill="none" stroke="#9a3c00" stroke-width="3.0" stroke-linecap="round" stroke-linejoin="round"/><path d="M143.4 54.5 L133.7 51.0" fill="none" stroke="#d8640a" stroke-width="1.86" stroke-linecap="round" stroke-linejoin="round"/><path d="M143.4 54.5 L133.7 51.0" fill="none" stroke="#f08a30" stroke-width="0.66" stroke-linecap="round" stroke-linejoin="round" opacity="0.7"/><path d="M133.0 59.2 L122.6 63.9" fill="none" stroke="#9a9400" stroke-width="3.0" stroke-linecap="round" stroke-linejoin="round"/><path d="M133.0 59.2 L122.6 63.9" fill="none" stroke="#dcd400" stroke-width="1.86" stroke-linecap="round" stroke-linejoin="round"/><path d="M133.0 59.2 L122.6 63.9" fill="none" stroke="#f4f060" stroke-width="0.66" stroke-linecap="round" stroke-linejoin="round" opacity="0.7"/><path d="M143.4 54.5 L133.0 59.2" fill="none" stroke="#9a3c00" stroke-width="3.0" stroke-linecap="round" stroke-linejoin="round"/><path d="M143.4 54.5 L133.0 59.2" fill="none" stroke="#d8640a" stroke-width="1.86" stroke-linecap="round" stroke-linejoin="round"/><path d="M143.4 54.5 L133.0 59.2" fill="none" stroke="#f08a30" stroke-width="0.66" stroke-linecap="round" stroke-linejoin="round" opacity="0.7"/><circle cx="123.9" cy="47.4" r="5.1" fill="url(#gS)"/><circle cx="104.0" cy="53.8" r="6.8" fill="url(#gFe)"/><circle cx="143.4" cy="54.5" r="6.8" fill="url(#gFe)"/><circle cx="122.6" cy="63.9" r="7.5" fill="url(#gS)"/><text id="m_fe1" x="97.80" y="57.60" font-size="11.9" font-family='"Liberation Sans", sans-serif' fill="#000" stroke="#000" stroke-width="0.35">Fe</text><text id="m_fe2" x="136.80" y="59.50" font-size="12.3" font-family='"Liberation Sans", sans-serif' fill="#000" stroke="#000" stroke-width="0.35">Fe</text><text id="m_s1" x="119.30" y="51.90" font-size="11.2" font-family='"Liberation Sans", sans-serif' fill="#000" stroke="#000" stroke-width="0.35">S</text><text id="m_s2" x="118.80" y="68.60" font-size="12.4" font-family='"Liberation Sans", sans-serif' fill="#000" stroke="#000" stroke-width="0.35">S</text></g>
</svg></body></html>
